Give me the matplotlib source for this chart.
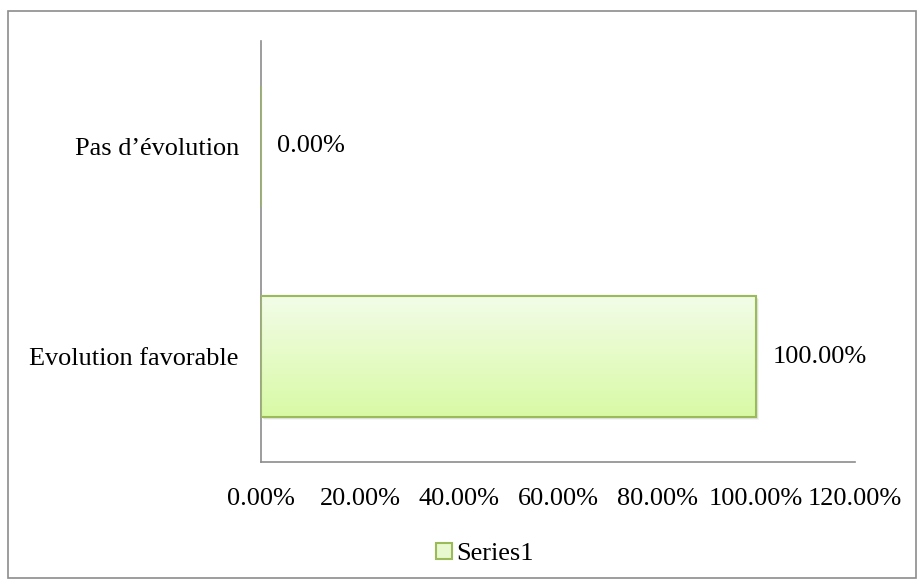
import matplotlib
matplotlib.use("Agg")
import matplotlib.pyplot as plt
import numpy as np
from matplotlib.patches import Rectangle

categories = ["Evolution favorable", "Pas d\u2019évolution"]
values = [1.0, 0.0]
xticks = [0.0, 0.2, 0.4, 0.6, 0.8, 1.0, 1.2]
series_name = "Series1"

plt.rcParams["font.family"] = ["Liberation Serif", "DejaVu Serif"]
fs = 18.9

fig = plt.figure(figsize=(9.2, 5.81), dpi=100)
# outer chart border
fig.patches.append(Rectangle((8 / 920, 3 / 581), 908 / 920, 567 / 581,
                             transform=fig.transFigure, fill=False,
                             edgecolor="#8c8c8c", linewidth=1.2))

ax = fig.add_axes([261 / 920, (581 - 462) / 581, 594 / 920, 421 / 581])

h = 0.575
bars = ax.barh(range(len(categories)), values, height=h,
               color="none", edgecolor="#9bbb59", linewidth=1.5, zorder=3)

grad = np.linspace(0, 1, 100).reshape(-1, 1)
top = np.array([0.95, 0.99, 0.91])
bot = np.array([0.85, 0.98, 0.65])
img = top + (bot - top) * grad[..., None]
for b in bars:
    if b.get_width() <= 0:
        continue
    x0, y0, w, hh = b.get_x(), b.get_y(), b.get_width(), b.get_height()
    # soft shadow
    for k, a in [(1, 0.35), (2, 0.2), (3, 0.1)]:
        ax.add_patch(Rectangle((x0 + 0.002 * k, y0 - 0.005 * k), w, hh, color="#999999",
                               alpha=a, zorder=1, linewidth=0))
    ax.imshow(img, extent=[x0, x0 + w, y0, y0 + hh], aspect="auto",
              origin="upper", zorder=2)

ax.set_xlim(0, 1.2)
ax.set_ylim(-0.5, 1.5)

for i, v in enumerate(values):
    ax.text(v + 0.033, i, f"{v * 100:.2f}%", va="center", ha="left", fontsize=fs)

ax.set_yticks(range(len(categories)))
ax.set_yticklabels(categories, fontsize=fs)
ax.set_xticks(xticks)
ax.set_xticklabels([f"{t * 100:.2f}%" for t in xticks], fontsize=fs)
ax.tick_params(axis="y", length=0, pad=16)
ax.tick_params(axis="x", length=0, pad=19)
for s in ["top", "right"]:
    ax.spines[s].set_visible(False)
for s in ["left", "bottom"]:
    ax.spines[s].set_color("#8c8c8c")
    ax.spines[s].set_linewidth(1.2)

handle = Rectangle((0, 0), 1, 1, facecolor="#e8f8cf", edgecolor="#9bbb59", linewidth=1.5)
fig.legend([handle], [series_name], loc="center", bbox_to_anchor=(485 / 920, 1 - 554 / 581),
           frameon=False, fontsize=fs, handlelength=0.6, handleheight=0.6,
           handletextpad=0.15)

fig.savefig("out.png", dpi=100)
